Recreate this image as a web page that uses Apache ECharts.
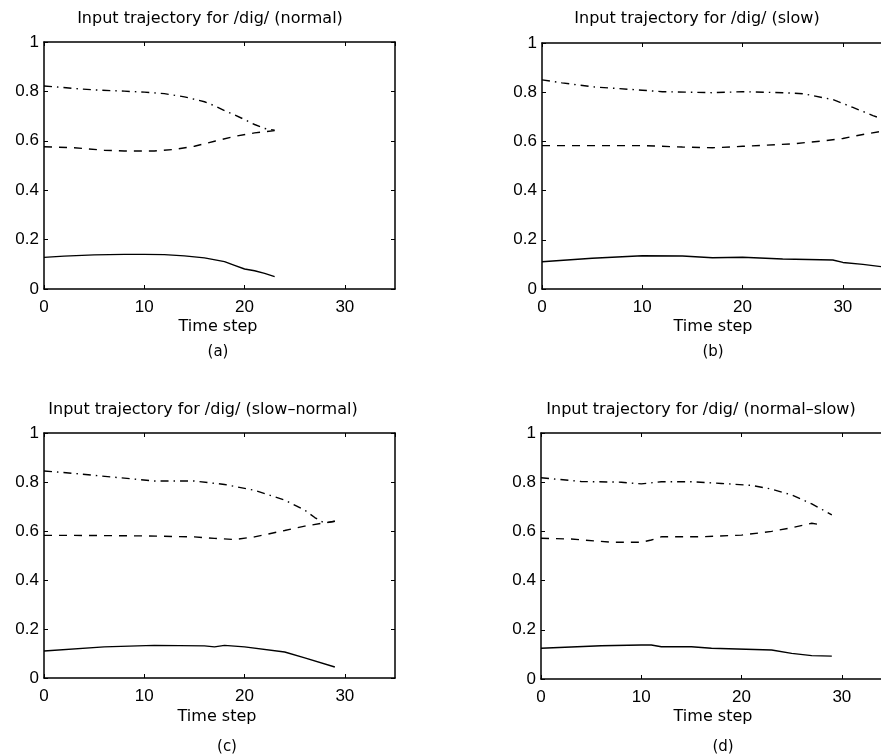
<!DOCTYPE html>
<html>
<head>
<meta charset="utf-8">
<script src="https://cdn.jsdelivr.net/npm/echarts@6/dist/echarts.min.js"></script>
<style>html,body{margin:0;padding:0;background:#fff;}#c{width:881px;height:756px;}</style>
</head>
<body>
<div id="c"></div>
<script>
// ---------- data ----------
const panelTitles = ['Input trajectory for /dig/ (normal)', 'Input trajectory for /dig/ (slow)',
                     'Input trajectory for /dig/ (slow\u2013normal)', 'Input trajectory for /dig/ (normal\u2013slow)'];
const panelTags = ['(a)', '(b)', '(c)', '(d)'];
const xAxisName = 'Time step';
const xTicks = [0, 10, 20, 30];
const yTicks = [0, 0.2, 0.4, 0.6, 0.8, 1];

// (a) normal
const aSolidT   = [0, 2, 5, 8, 10, 12, 14, 16, 18, 19, 20, 21, 22, 23];
const aSolidV   = [0.128, 0.133, 0.138, 0.140, 0.140, 0.139, 0.134, 0.126, 0.111, 0.096, 0.081, 0.074, 0.063, 0.050];
const aDashT    = [0, 3, 6, 8, 11, 13, 15, 17, 19, 21, 23];
const aDashV    = [0.576, 0.572, 0.562, 0.559, 0.559, 0.565, 0.578, 0.598, 0.618, 0.632, 0.641];
const aDotT     = [0, 3, 5, 8, 10, 12, 14, 16, 17, 18, 19, 20, 21, 22, 23];
const aDotV     = [0.822, 0.812, 0.806, 0.801, 0.797, 0.791, 0.778, 0.758, 0.742, 0.722, 0.705, 0.686, 0.666, 0.650, 0.643];

// (b) slow
const bSolidT   = [0, 5, 10, 14, 17, 20, 24, 29, 30, 32, 34];
const bSolidV   = [0.111, 0.125, 0.135, 0.134, 0.127, 0.129, 0.122, 0.118, 0.108, 0.100, 0.090];
const bDashT    = [0, 3, 10, 14, 17, 20, 25, 28, 30, 32, 34];
const bDashV    = [0.583, 0.583, 0.583, 0.577, 0.574, 0.580, 0.590, 0.602, 0.612, 0.628, 0.642];
const bDotT     = [0, 2, 5, 10, 12, 17, 20, 24, 26, 28, 29, 31, 33, 34];
const bDotV     = [0.850, 0.838, 0.822, 0.808, 0.802, 0.798, 0.802, 0.798, 0.794, 0.778, 0.770, 0.738, 0.705, 0.690];

// (c) slow-normal
const cSolidT   = [0, 6, 11, 16, 17, 18, 20, 24, 26, 29];
const cSolidV   = [0.110, 0.127, 0.133, 0.131, 0.127, 0.133, 0.127, 0.106, 0.082, 0.045];
const cDashT    = [0, 3, 10, 15, 17, 19, 21, 24, 26, 29];
const cDashV    = [0.582, 0.582, 0.580, 0.576, 0.570, 0.565, 0.576, 0.602, 0.620, 0.640];
const cDotT     = [0, 3, 5, 9, 11, 15, 18, 21, 24, 26, 27, 28, 29];
const cDotV     = [0.845, 0.835, 0.827, 0.812, 0.804, 0.804, 0.790, 0.766, 0.726, 0.685, 0.655, 0.632, 0.640];

// (d) normal-slow
const dSolidT   = [0, 6, 10, 11, 12, 15, 17, 23, 25, 27, 29];
const dSolidV   = [0.125, 0.135, 0.138, 0.138, 0.131, 0.131, 0.125, 0.118, 0.104, 0.095, 0.093];
const dDashT    = [0, 3, 7, 10, 11, 12, 16, 20, 23, 25, 27, 28];
const dDashV    = [0.572, 0.569, 0.556, 0.556, 0.565, 0.578, 0.578, 0.585, 0.600, 0.615, 0.633, 0.626];
const dDotT     = [0, 4, 8, 10, 12, 15, 18, 21, 23, 25, 27, 29];
const dDotV     = [0.818, 0.803, 0.800, 0.793, 0.802, 0.802, 0.795, 0.787, 0.772, 0.748, 0.712, 0.667];

// ---------- layout ----------
const FONT = 'Liberation Sans, Arial, Helvetica, sans-serif';
const FONT2 = 'DejaVu Sans, Liberation Sans, sans-serif';
const grids = [
  {left: 44,  top: 42,  width: 351, height: 247},
  {left: 542, top: 43,  width: 351, height: 246},
  {left: 44,  top: 433, width: 351, height: 245},
  {left: 541, top: 433, width: 351, height: 246}
];
const titlePos = [[210, 19], [697, 19], [203, 410], [701, 410]];
const namePos  = [[218, 327], [713, 327], [217, 717], [713, 717]];
const tagPos   = [[218, 352], [713, 352], [227, 747], [723, 747]];

const panels = [
  [[aSolidT, aSolidV], [aDashT, aDashV], [aDotT, aDotV]],
  [[bSolidT, bSolidV], [bDashT, bDashV], [bDotT, bDotV]],
  [[cSolidT, cSolidV], [cDashT, cDashV], [cDotT, cDotV]],
  [[dSolidT, dSolidV], [dDashT, dDashV], [dDotT, dDotV]]
];
const lineTypes = ['solid', [8, 7], [8, 5, 1.5, 5]];

const zip = (t, v) => t.map((x, i) => [x, v[i]]);
const axisLineStyle = {show: true, onZero: false, lineStyle: {color: '#000', width: 1.5}};
const tickStyle = {show: true, inside: true, length: 4, lineStyle: {color: '#000', width: 1}};

const option = {
  animation: false,
  backgroundColor: '#fff',
  grid: [], xAxis: [], yAxis: [], series: [], graphic: []
};

grids.forEach((g, i) => {
  option.grid.push(Object.assign({containLabel: false, outerBoundsMode: 'none', show: false}, g));
  option.xAxis.push({
    type: 'value', gridIndex: i, position: 'bottom', min: 0, max: 35, interval: 10,
    axisLine: axisLineStyle, axisTick: tickStyle, splitLine: {show: false},
    axisLabel: {show: true, margin: 10, color: '#000', fontSize: 17, fontFamily: FONT, showMaxLabel: false,
      formatter: v => xTicks.includes(v) ? String(v) : ''}
  });
  option.xAxis.push({
    type: 'value', gridIndex: i, position: 'top', min: 0, max: 35, interval: 10,
    axisLine: axisLineStyle, axisTick: tickStyle, splitLine: {show: false}, axisLabel: {show: false}
  });
  option.yAxis.push({
    type: 'value', gridIndex: i, position: 'left', min: 0, max: 1, interval: 0.2,
    axisLine: axisLineStyle, axisTick: tickStyle, splitLine: {show: false},
    axisLabel: {show: true, margin: 5, color: '#000', fontSize: 17, fontFamily: FONT,
      formatter: v => { const t = yTicks.find(y => Math.abs(y - v) < 1e-9); return t === undefined ? '' : String(t); }}
  });
  option.yAxis.push({
    type: 'value', gridIndex: i, position: 'right', min: 0, max: 1, interval: 0.2,
    axisLine: axisLineStyle, axisTick: tickStyle, splitLine: {show: false}, axisLabel: {show: false}
  });

  panels[i].forEach((s, k) => {
    option.series.push({
      type: 'line', xAxisIndex: 2 * i, yAxisIndex: 2 * i, data: zip(s[0], s[1]),
      showSymbol: false, symbol: 'none', smooth: false, clip: true, silent: true,
      lineStyle: {color: '#000', width: 1.4, type: lineTypes[k]}
    });
  });

  option.graphic.push({type: 'text', x: titlePos[i][0], y: titlePos[i][1],
    style: {text: panelTitles[i], fill: '#000', font: '16px ' + FONT2, align: 'center', verticalAlign: 'middle'}});
  option.graphic.push({type: 'text', x: namePos[i][0], y: namePos[i][1],
    style: {text: xAxisName, fill: '#000', font: '16px ' + FONT2, align: 'center', verticalAlign: 'middle'}});
  option.graphic.push({type: 'text', x: tagPos[i][0], y: tagPos[i][1],
    style: {text: panelTags[i], fill: '#000', font: '15px ' + FONT2, align: 'center', verticalAlign: 'middle'}});
});

const chart = echarts.init(document.getElementById('c'), null, {renderer: 'canvas'});
chart.setOption(option);
</script>
</body>
</html>
